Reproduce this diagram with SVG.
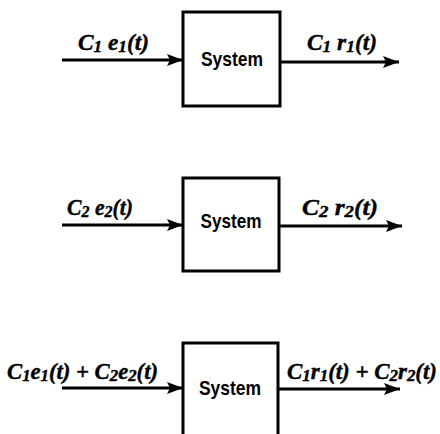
<svg xmlns="http://www.w3.org/2000/svg" width="440" height="434" viewBox="0 0 440 434">
<defs>
<style>
.box{fill:#fff;stroke:#000;stroke-width:3}
.wire{stroke:#000;stroke-width:3;fill:none}
.sys{font-family:"Liberation Sans",Arial,sans-serif;font-weight:bold;font-size:21px;fill:#000}
.lab{font-family:"Liberation Serif","Times New Roman",serif;font-weight:bold;font-style:italic;font-size:23px;fill:#000;stroke:#000;stroke-width:0.4}
.sub{font-size:17px}
</style>
<marker id="ah" markerUnits="userSpaceOnUse" markerWidth="17" markerHeight="13" refX="16" refY="6.5" orient="auto">
<path d="M0,0.5 L16,6.5 L0,12.5 L3,6.5 Z" fill="#000"/>
</marker>
</defs>
<rect width="440" height="434" fill="#fff"/>
<g id="connectors">
<line class="wire" x1="62" y1="60" x2="183" y2="60" marker-end="url(#ah)"/>
<line class="wire" x1="280" y1="62" x2="399" y2="62" marker-end="url(#ah)"/>
<line class="wire" x1="62" y1="225" x2="183" y2="225" marker-end="url(#ah)"/>
<line class="wire" x1="279" y1="226" x2="402" y2="226" marker-end="url(#ah)"/>
<line class="wire" x1="62" y1="388" x2="183" y2="388" marker-end="url(#ah)"/>
<line class="wire" x1="278" y1="389" x2="400" y2="389" marker-end="url(#ah)"/>
</g>
<g id="system1">
<rect class="box" x="183" y="12" width="97" height="94"/>
<text class="sys" x="232" y="66" text-anchor="middle" textLength="62" lengthAdjust="spacingAndGlyphs">System</text>
</g>
<g id="system2">
<rect class="box" x="183" y="178" width="96" height="93"/>
<text class="sys" x="231" y="228" text-anchor="middle" textLength="61" lengthAdjust="spacingAndGlyphs">System</text>
</g>
<g id="system3">
<rect class="box" x="183" y="343" width="95" height="100"/>
<text class="sys" x="230" y="395" text-anchor="middle" textLength="62" lengthAdjust="spacingAndGlyphs">System</text>
</g>
<g id="labels">
<text class="lab" x="78" y="50" textLength="71" lengthAdjust="spacingAndGlyphs">C<tspan class="sub" dy="2">1</tspan><tspan dy="-2"> e</tspan><tspan class="sub" dy="2">1</tspan><tspan dy="-2">(t)</tspan></text>
<text class="lab" x="307" y="50" textLength="70" lengthAdjust="spacingAndGlyphs">C<tspan class="sub" dy="2">1</tspan><tspan dy="-2"> r</tspan><tspan class="sub" dy="2">1</tspan><tspan dy="-2">(t)</tspan></text>
<text class="lab" x="67" y="215" textLength="66" lengthAdjust="spacingAndGlyphs">C<tspan class="sub" dy="2">2</tspan><tspan dy="-2"> e</tspan><tspan class="sub" dy="2">2</tspan><tspan dy="-2">(t)</tspan></text>
<text class="lab" x="302" y="215" textLength="76" lengthAdjust="spacingAndGlyphs">C<tspan class="sub" dy="2">2</tspan><tspan dy="-2"> r</tspan><tspan class="sub" dy="2">2</tspan><tspan dy="-2">(t)</tspan></text>
<text class="lab" x="7" y="379" textLength="151" lengthAdjust="spacingAndGlyphs">C<tspan class="sub" dy="2">1</tspan><tspan dy="-2">e</tspan><tspan class="sub" dy="2">1</tspan><tspan dy="-2">(t) + C</tspan><tspan class="sub" dy="2">2</tspan><tspan dy="-2">e</tspan><tspan class="sub" dy="2">2</tspan><tspan dy="-2">(t)</tspan></text>
<text class="lab" x="287" y="379" textLength="150" lengthAdjust="spacingAndGlyphs">C<tspan class="sub" dy="2">1</tspan><tspan dy="-2">r</tspan><tspan class="sub" dy="2">1</tspan><tspan dy="-2">(t) + C</tspan><tspan class="sub" dy="2">2</tspan><tspan dy="-2">r</tspan><tspan class="sub" dy="2">2</tspan><tspan dy="-2">(t)</tspan></text>
</g>
</svg>
